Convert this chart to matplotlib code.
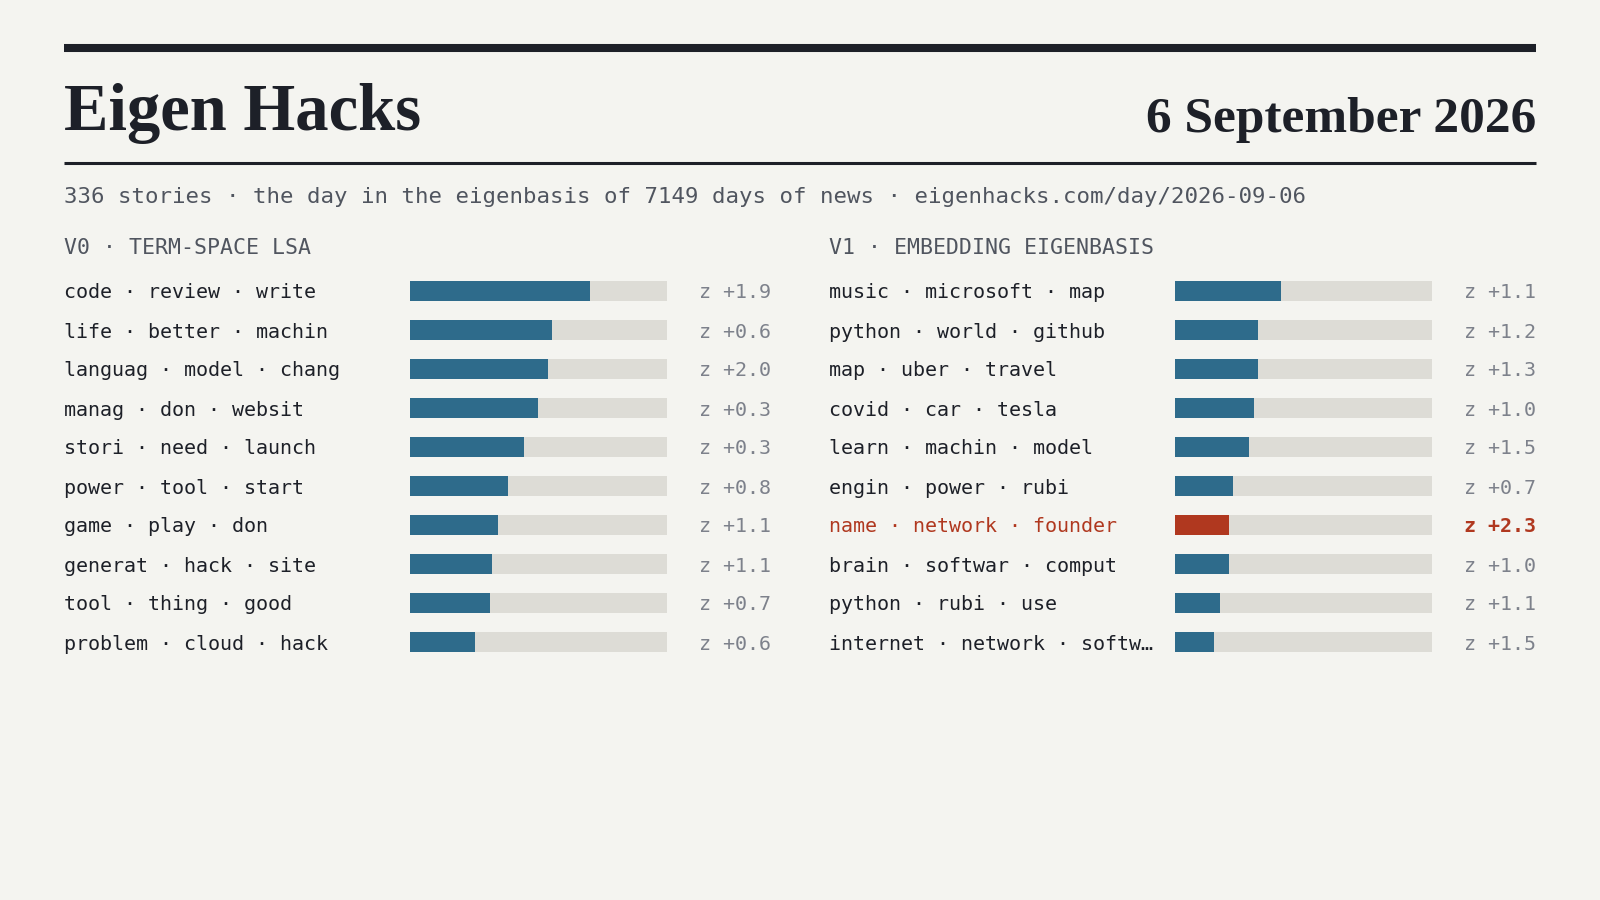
import matplotlib
matplotlib.use('Agg')
import matplotlib.pyplot as plt
from matplotlib.lines import Line2D
from matplotlib.transforms import blended_transform_factory

#figure size in pixels (dpi 100)
W, H = 1600, 900

#chart data
v0_terms = ['code · review · write', 'life · better · machin', 'languag · model · chang',
            'manag · don · websit', 'stori · need · launch', 'power · tool · start',
            'game · play · don', 'generat · hack · site', 'tool · thing · good',
            'problem · cloud · hack']
v0_weight = [0.701, 0.551, 0.538, 0.499, 0.442, 0.380, 0.341, 0.321, 0.310, 0.252]
v0_z = [1.9, 0.6, 2.0, 0.3, 0.3, 0.8, 1.1, 1.1, 0.7, 0.6]

v1_terms = ['music · microsoft · map', 'python · world · github', 'map · uber · travel',
            'covid · car · tesla', 'learn · machin · model', 'engin · power · rubi',
            'name · network · founder', 'brain · softwar · comput', 'python · rubi · use',
            'internet · network · softw…']
v1_weight = [0.412, 0.323, 0.323, 0.310, 0.291, 0.228, 0.210, 0.210, 0.178, 0.152]
v1_z = [1.1, 1.2, 1.3, 1.0, 1.5, 0.7, 2.3, 1.0, 1.1, 1.5]

headers = ['V0 · TERM-SPACE LSA', 'V1 · EMBEDDING EIGENBASIS']
title = 'Eigen Hacks'
date_label = '6 September 2026'
subtitle = ('336 stories · the day in the eigenbasis of 7149 days of news · '
            'eigenhacks.com/day/2026-09-06')

#colours
BG = '#f4f4f0'
INK = '#1d2028'
GREY = '#50555f'
ZGREY = '#7d818b'
BAR = '#2e6b8b'
TRACK = '#dddcd6'
RED = '#b0381f'

MONO = 'DejaVu Sans Mono'
SERIF = 'Liberation Serif'


def fx(x):
    return x / W


def fy(y):
    return 1 - y / H


fig = plt.figure(figsize=(W / 100, H / 100), dpi=100, facecolor=BG)

#header rules
fig.add_artist(Line2D([fx(64), fx(1536)], [fy(48), fy(48)], color=INK, lw=5.8,
                      solid_capstyle='butt'))
fig.add_artist(Line2D([fx(64), fx(1536)], [fy(162.5), fy(162.5)], color=INK, lw=2.2,
                      solid_capstyle='butt'))

fig.text(fx(64), fy(130), title, family=SERIF, fontweight='bold', fontsize=48,
         color=INK, va='baseline', ha='left')
fig.text(fx(1536), fy(132), date_label, family=SERIF, fontweight='bold', fontsize=37,
         color=INK, va='baseline', ha='right')
fig.text(fx(64), fy(203), subtitle, family=MONO, fontsize=16.1, color=GREY,
         va='baseline', ha='left')

#two columns: (label x, bar axes left, bar axes right, z label right)
columns = [
    (64, 410, 667, 771, v0_terms, v0_weight, v0_z, headers[0]),
    (829, 1174.5, 1432, 1536, v1_terms, v1_weight, v1_z, headers[1]),
]

row_top, row_step = 291, 39
n_rows = len(v0_terms)
ax_top = row_top - row_step / 2
ax_bot = ax_top + n_rows * row_step

for lab_x, bx0, bx1, z_x, terms, weight, zs, head in columns:
    fig.text(fx(lab_x), fy(254), head, family=MONO, fontsize=15.5, color=GREY,
             va='baseline', ha='left')

    ax = fig.add_axes([fx(bx0), fy(ax_bot), (bx1 - bx0) / W, (ax_bot - ax_top) / H])
    ax.set_facecolor('none')
    ax.set_xlim(0, 1)
    ax.set_ylim(n_rows - 0.5, -0.5)
    ax.axis('off')

    rows = list(range(len(terms)))
    hot = [z > 2.0 for z in zs]
    ax.barh(rows, [1.0] * len(rows), height=0.52, color=TRACK)
    ax.barh(rows, weight, height=0.52, color=[RED if h else BAR for h in hot])

    tr = blended_transform_factory(fig.transFigure, ax.transData)
    for i, (t, z, h) in enumerate(zip(terms, zs, hot)):
        ax.text(fx(lab_x), i, t, transform=tr, family=MONO, fontsize=14.4,
                color=RED if h else INK, va='center_baseline', ha='left')
        ax.text(fx(z_x), i, f'z {z:+.1f}', transform=tr, family=MONO, fontsize=14.4,
                color=RED if h else ZGREY, fontweight='bold' if h else 'normal',
                va='center_baseline', ha='right')

plt.savefig('out.png', dpi=100, facecolor=BG)
